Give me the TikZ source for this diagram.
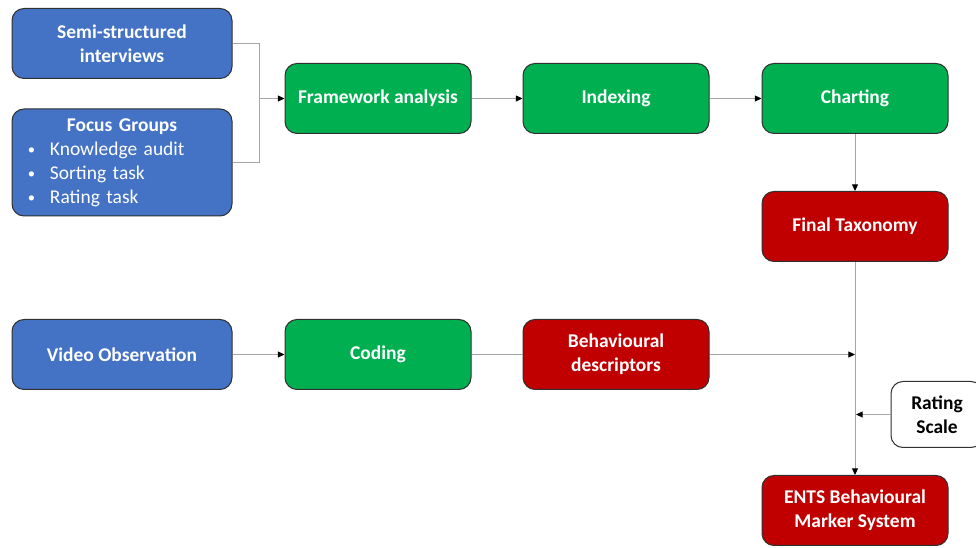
\documentclass[tikz,border=0pt]{standalone}
\usepackage{fontspec}
\setmainfont{Carlito}
\usetikzlibrary{arrows.meta}
\definecolor{cblue}{HTML}{4472C4}
\definecolor{cgreen}{HTML}{00B050}
\definecolor{cred}{HTML}{C00000}
\definecolor{cline}{HTML}{A6A6A6}
\definecolor{cborder}{HTML}{303030}
\newcommand{\bul}{\hspace*{12pt}\makebox[16.5pt][l]{\raisebox{0.5pt}{\fontsize{11}{11}\selectfont •}}}
\begin{document}
\begin{tikzpicture}[x=0.75pt,y=-0.75pt,
  box/.style={draw=cborder, line width=0.75pt, rounded corners=9pt, text=white,
    font=\fontsize{14.6}{18}\selectfont\bfseries, align=center, inner sep=0pt,
    minimum height=52.5pt},
  bluebox/.style={box, fill=cblue, minimum width=165pt},
  greenbox/.style={box, fill=cgreen, minimum width=139.5pt},
  redbox/.style={box, fill=cred, minimum width=139.5pt},
  whitebox/.style={box, fill=white, text=black, minimum width=69pt, minimum height=49.5pt},
  conn/.style={draw=cline, line width=0.75pt},
  arr/.style={conn, -{Triangle[length=5pt,width=4.5pt,color=black]}}
]
\clip (0,0) rectangle (976,548);
\fill[white] (0,0) rectangle (976,548);

\node[bluebox] (semi) at (122,43.5) {Semi-structured\\interviews};
\node[bluebox, minimum height=80.25pt, text width=165pt] (focus) at (122,162.5)
  {\centering Focus Groups\par\raggedright\mdseries
   \bul Knowledge audit\par
   \bul Sorting task\par
   \bul Rating task\par};
\node[greenbox] (fw) at (378,98.5) {Framework analysis};
\node[greenbox] (idx) at (616,98.5) {Indexing};
\node[greenbox] (chart) at (855,98.5) {Charting};
\node[redbox] (final) at (855,226.5) {Final Taxonomy};
\node[bluebox] (video) at (122,354.5) {Video Observation};
\node[greenbox] (coding) at (378,354.5) {Coding};
\node[redbox] (beh) at (616,354.5) {Behavioural\\descriptors};
\node[whitebox] (rating) at (937,414.5) {Rating\\Scale};
\node[redbox] (ents) at (855,510.5) {ENTS Behavioural\\Marker System};

\coordinate (j1) at (259,98.5);
\coordinate (m1) at (855,354.5);
\coordinate (m2) at (856,414.5);

\draw[conn] (semi.east) -| (j1);
\draw[conn] (focus.east) -| (j1);
\draw[arr] (j1) -- (fw.west);
\draw[arr] (fw.east) -- (idx.west);
\draw[arr] (idx.east) -- (chart.west);
\draw[arr] (chart.south) -- (final.north);
\draw[arr] (final.south) -- (ents.north);
\draw[arr] (video.east) -- (coding.west);
\draw[conn] (coding.east) -- (beh.west);
\draw[arr] (beh.east) -- (m1);
\draw[arr] (rating.west) -- (m2);
\end{tikzpicture}
\end{document}
